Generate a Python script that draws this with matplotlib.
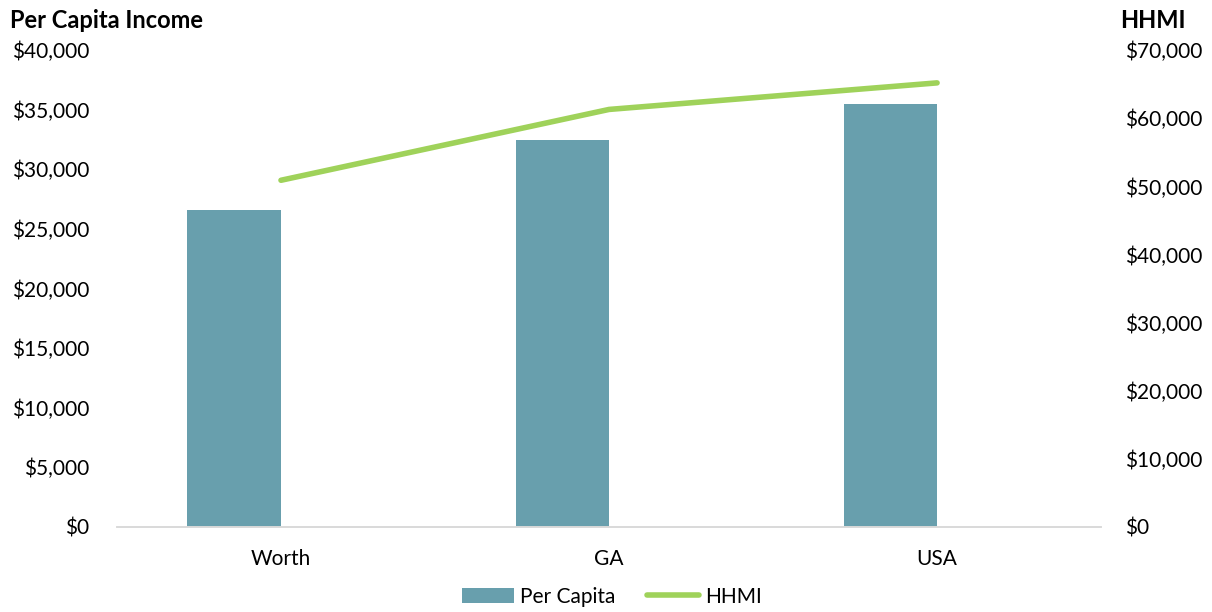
import matplotlib
matplotlib.use("Agg")
import matplotlib.pyplot as plt
from matplotlib.ticker import FuncFormatter

plt.rcParams['font.family'] = ['Lato', 'DejaVu Sans']

# valores por região
regioes = ["Worth", "GA", "USA"]
per_capita = [26600, 32450, 35450]
hhmi = [50900, 61300, 65200]

COR_BARRA = "#689FAD"
COR_LINHA = "#9FD25A"
LARGURA = 0.285

def dolar(v, pos):
    return f"${v:,.0f}"

fig = plt.figure(figsize=(12.12, 6.12), dpi=100)
ax = fig.add_axes([0.0965, 0.139, 0.812, 0.779])
ax2 = ax.twinx()

x = list(range(len(regioes)))
# barra fica à esquerda do centro da categoria (como no Excel com série vazia ao lado)
barras = ax.bar(x, per_capita, width=-LARGURA, align="edge", color=COR_BARRA, label="Per Capita")
linha, = ax2.plot(x, hhmi, color=COR_LINHA, linewidth=4, solid_capstyle="round", label="HHMI")

ax.set_xlim(-0.5, 2.5)
ax.set_ylim(0, 40000)
ax.set_yticks(range(0, 40001, 5000))
ax2.set_ylim(0, 70000)
ax2.set_yticks(range(0, 70001, 10000))
ax.yaxis.set_major_formatter(FuncFormatter(dolar))
ax2.yaxis.set_major_formatter(FuncFormatter(dolar))

ax.set_xticks(x)
ax.set_xticklabels(regioes)

for a in (ax, ax2):
    for lado in ("top", "left", "right"):
        a.spines[lado].set_visible(False)
    a.spines["bottom"].set_color("#D9D9D9")
    a.spines["bottom"].set_linewidth(1.2)
    a.tick_params(length=0, labelsize=15, colors="#000000")
ax.tick_params(axis="y", pad=20)
ax.tick_params(axis="x", pad=16)
ax2.tick_params(axis="y", pad=17)

fig.text(0.008, 0.967, "Per Capita Income", fontsize=17, fontweight="bold", va="center", ha="left")
fig.text(0.978, 0.967, "HHMI", fontsize=17, fontweight="bold", va="center", ha="right")

fig.legend(handles=[barras, linha], loc="center", bbox_to_anchor=(0.505, 0.025),
           ncol=2, frameon=False, fontsize=15, handlelength=2.5, columnspacing=1.5,
           handletextpad=0.3)

fig.savefig("out.png", dpi=100)
